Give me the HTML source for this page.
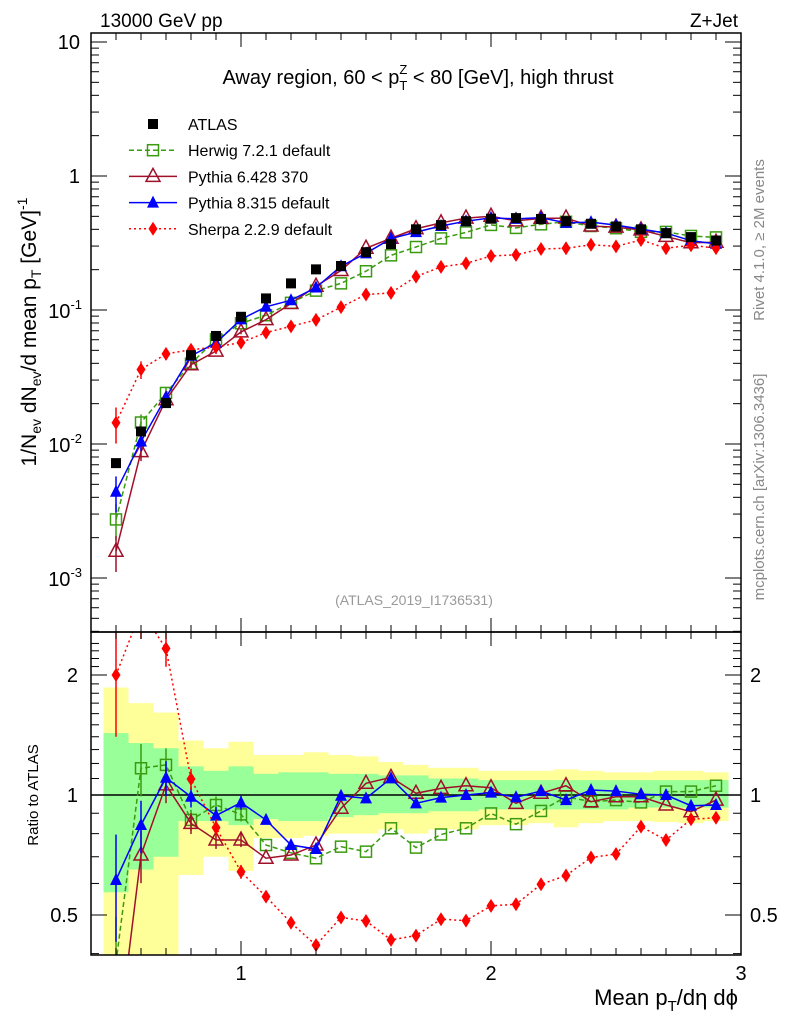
<!DOCTYPE html>
<html><head><meta charset="utf-8"><style>
html,body{margin:0;padding:0;background:#fff;font-family:"Liberation Sans",sans-serif;width:786px;height:1024px;overflow:hidden}
svg{display:block}
text{font-family:"Liberation Sans",sans-serif}
</style></head><body>
<svg id="c" width="786" height="1024" xmlns="http://www.w3.org/2000/svg">
<text x="100" y="27" font-size="19">13000 GeV pp</text>
<text x="738" y="27" font-size="19" text-anchor="end">Z+Jet</text>
<text x="418" y="84" font-size="20" text-anchor="middle">Away region, 60 &lt; p<tspan font-size="13" dy="6">T</tspan><tspan font-size="13" dx="-8" dy="-16">Z</tspan><tspan dy="10"> &lt; 80 [GeV], high thrust</tspan></text>
<text x="414" y="605" font-size="14" fill="#999" text-anchor="middle">(ATLAS_2019_I1736531)</text>
<text transform="translate(764,240) rotate(-90)" font-size="15" fill="#888" text-anchor="middle">Rivet 4.1.0, ≥ 2M events</text>
<text transform="translate(764,487) rotate(-90)" font-size="15" fill="#888" text-anchor="middle">mcplots.cern.ch [arXiv:1306.3436]</text>
<text transform="translate(36,332) rotate(-90)" font-size="21" text-anchor="middle">1/N<tspan font-size="14" dy="5">ev</tspan><tspan dy="-5"> dN</tspan><tspan font-size="14" dy="5">ev</tspan><tspan dy="-5">/d mean p</tspan><tspan font-size="14" dy="5">T</tspan><tspan dy="-5"> [GeV]</tspan><tspan font-size="14" dy="-9">-1</tspan></text>
<text transform="translate(38,795) rotate(-90)" font-size="15" text-anchor="middle">Ratio to ATLAS</text>
<text x="738" y="1005" font-size="22" text-anchor="end">Mean p<tspan font-size="15" dy="6">T</tspan><tspan dy="-6">/dη dϕ</tspan></text>
<g id="g"></g>
</svg>
<script>
const xs=[0.5,0.6,0.7,0.8,0.9,1.0,1.1,1.2,1.3,1.4,1.5,1.6,1.7,1.8,1.9,2.0,2.1,2.2,2.3,2.4,2.5,2.6,2.7,2.8,2.9];
const atlas=[0.0072,0.0124,0.0202,0.046,0.064,0.089,0.122,0.158,0.201,0.213,0.27,0.31,0.40,0.43,0.46,0.48,0.485,0.478,0.46,0.44,0.42,0.40,0.375,0.35,0.33];
const herwigR=[0.38,1.167,1.19,0.866,0.944,0.894,0.749,0.716,0.694,0.742,0.721,0.825,0.738,0.796,0.825,0.899,0.845,0.912,0.99,0.962,0.971,0.958,1.02,1.02,1.055];
const py6R=[0.22,0.707,1.06,0.849,0.771,0.771,0.694,0.707,0.749,0.926,1.07,1.107,1.01,1.039,1.055,1.043,0.953,1.01,1.055,0.962,0.99,0.99,0.944,0.908,0.971];
const py8R=[0.612,0.841,1.105,0.99,0.888,0.957,0.866,0.749,0.732,0.996,0.981,1.101,0.953,0.985,1.0,1.014,0.987,1.023,0.971,1.029,1.023,1.004,1.0,0.94,0.944];
const sherpaR=[2.0,2.9,2.33,1.097,0.828,0.642,0.556,0.478,0.42,0.493,0.483,0.433,0.444,0.488,0.484,0.527,0.532,0.597,0.628,0.697,0.711,0.833,0.771,0.869,0.877];
const yelUp=[1.86,1.70,1.61,1.37,1.31,1.36,1.26,1.26,1.28,1.26,1.25,1.21,1.19,1.17,1.17,1.15,1.15,1.15,1.16,1.15,1.14,1.14,1.15,1.15,1.14];
const yelLo=[0.3,0.3,0.3,0.63,0.70,0.645,0.78,0.78,0.79,0.80,0.80,0.82,0.80,0.82,0.82,0.84,0.84,0.85,0.83,0.85,0.86,0.86,0.855,0.85,0.86];
const grnUp=[1.43,1.35,1.31,1.18,1.15,1.18,1.13,1.14,1.14,1.13,1.13,1.12,1.12,1.10,1.10,1.09,1.09,1.09,1.09,1.09,1.09,1.09,1.09,1.09,1.09];
const grnLo=[0.57,0.65,0.70,0.86,0.86,0.84,0.87,0.86,0.86,0.88,0.89,0.90,0.90,0.91,0.91,0.92,0.92,0.92,0.92,0.92,0.92,0.93,0.93,0.93,0.93];
const relErr=[0.3,0.15,0.1,0.06,0.05,0.04,0.03,0.03,0.03,0.02,0.02,0.02,0.02,0.02,0.02,0.02,0.02,0.02,0.02,0.02,0.02,0.02,0.02,0.02,0.02];

const L=91,R=741,T=33,M=632,B=955;
const X=v=>L+(v-0.4)*250;
const Y=v=>176-Math.log10(v)*134;
const YR=v=>795-Math.log2(v)*120;
const NS="http://www.w3.org/2000/svg";
const g=document.getElementById('g');
function el(t,a,p){const e=document.createElementNS(NS,t);for(const k in a)e.setAttribute(k,a[k]);(p||g).appendChild(e);return e;}
const clipT=el('clipPath',{id:'ct'});el('rect',{x:L,y:T,width:R-L,height:M-T},clipT);
const clipB=el('clipPath',{id:'cb'});el('rect',{x:L,y:M,width:R-L,height:B-M},clipB);
const gt=el('g',{'clip-path':'url(#ct)'});
const gb=el('g',{'clip-path':'url(#cb)'});

xs.forEach((x,i)=>{
 const x0=X(x-0.05),w=25;
 const y1=el('rect',{x:x0,y:YR(yelUp[i]),width:w,height:YR(yelLo[i])-YR(yelUp[i]),fill:'#ffff99'},gb);
 
 const g1=el('rect',{x:x0,y:YR(grnUp[i]),width:w,height:YR(grnLo[i])-YR(grnUp[i]),fill:'#99ff99'},gb);
 
});
el('line',{x1:L,x2:R,y1:YR(1),y2:YR(1),stroke:'#000','stroke-width':1.5},gb);

function marker(par,type,cx,cy,col){
 let e;
 if(type==='sq') e=el('rect',{x:cx-5,y:cy-5,width:10,height:10,fill:'#000'},par);
 else if(type==='osq') e=el('rect',{x:cx-5.5,y:cy-5.5,width:11,height:11,fill:'#fff','fill-opacity':0,stroke:col,'stroke-width':1.5},par);
 else if(type==='otri') e=el('polygon',{points:`${cx},${cy-8} ${cx-7},${cy+5} ${cx+7},${cy+5}`,fill:'none',stroke:col,'stroke-width':1.5},par);
 else if(type==='tri') e=el('polygon',{points:`${cx},${cy-7} ${cx-6},${cy+5} ${cx+6},${cy+5}`,fill:col},par);
 else e=el('polygon',{points:`${cx},${cy-7} ${cx-4.5},${cy} ${cx},${cy+7} ${cx+4.5},${cy}`,fill:col},par);
 return e;
}
const series=[
 {name:'herwig',r:herwigR,col:'#3a9a10',dash:'5,3',m:'osq'},
 {name:'pythia6',r:py6R,col:'#a0102a',dash:'',m:'otri'},
 {name:'pythia8',r:py8R,col:'#0000ff',dash:'',m:'tri'},
 {name:'sherpa',r:sherpaR,col:'#ff0000',dash:'2,3',m:'dia'}
];
series.forEach(s=>{
 const vals=s.r.map((r,i)=>r*atlas[i]);
 const pt=el('polyline',{points:xs.map((x,i)=>X(x)+','+Y(vals[i])).join(' '),fill:'none',stroke:s.col,'stroke-width':1.5,'stroke-dasharray':s.dash},gt);
 
 const pb=el('polyline',{points:xs.map((x,i)=>X(x)+','+YR(s.r[i])).join(' '),fill:'none',stroke:s.col,'stroke-width':1.5,'stroke-dasharray':s.dash},gb);
 
 xs.forEach((x,i)=>{
  const e=relErr[i];
  if(e>0.03){
   el('line',{x1:X(x),x2:X(x),y1:Y(vals[i]*(1+e)),y2:Y(vals[i]*(1-e)),stroke:s.col,'stroke-width':1.5},gt);
   el('line',{x1:X(x),x2:X(x),y1:YR(s.r[i]*(1+e)),y2:YR(s.r[i]*(1-e)),stroke:s.col,'stroke-width':1.5},gb);
  }
  const m1=marker(gt,s.m,X(x),Y(vals[i]),s.col);
  
  const m2=marker(gb,s.m,X(x),YR(s.r[i]),s.col);
  
 });
});
xs.forEach((x,i)=>{
 const m=marker(gt,'sq',X(x),Y(atlas[i]),'#000');
 
});

el('rect',{x:L,y:T,width:R-L,height:M-T,fill:'none',stroke:'#000','stroke-width':1.5});
el('rect',{x:L,y:M,width:R-L,height:B-M,fill:'none',stroke:'#000','stroke-width':1.5});
for(let k=4;k<=30;k++){
 const v=k/10,x=X(v),maj=k%10===0,len=maj?14:7;
 [[T,1],[M,-1],[M,1],[B,-1]].forEach(([y,d])=>el('line',{x1:x,x2:x,y1:y,y2:y+d*len,stroke:'#000'}));
 if(maj){const t=el('text',{x:x,y:980,'font-size':20,'text-anchor':'middle'});t.textContent=k/10;
  }
}
for(let e=-4;e<=1;e++){
 for(let m=1;m<=9;m++){
  const v=m*Math.pow(10,e),y=Y(v);
  if(y<T||y>M)continue;
  const len=m===1?16:8;
  el('line',{x1:L,x2:L+len,y1:y,y2:y,stroke:'#000'});
  el('line',{x1:R,x2:R-len,y1:y,y2:y,stroke:'#000'});
 }
}
const yl=[['10',1],['1',0]];
yl.forEach(([s,e])=>{const t=el('text',{x:80,y:Y(Math.pow(10,e))+7,'font-size':20,'text-anchor':'end'});t.textContent=s;
 });
[-1,-2,-3].forEach(e=>{const t=el('text',{x:82,y:Y(Math.pow(10,e))+8,'font-size':20,'text-anchor':'end'});
 t.innerHTML='10<tspan font-size="13" dy="-9">'+e+'</tspan>';
 });
for(let v=0.4;v<=2.5;v+=0.1){
 const vv=Math.round(v*10)/10,y=YR(vv);if(y<M||y>B)continue;
 const maj=(vv===0.5||vv===1||vv===2),len=maj?16:8;
 el('line',{x1:L,x2:L+len,y1:y,y2:y,stroke:'#000'});
 el('line',{x1:R,x2:R-len,y1:y,y2:y,stroke:'#000'});
}
[['2',2],['1',1],['0.5',0.5]].forEach(([s,v])=>{
 [[78,'end'],[750,'start']].forEach(([x,a])=>{const t=el('text',{x:x,y:YR(v)+7,'font-size':20,'text-anchor':a});t.textContent=s;
 });
});
const leg=[['ATLAS','sq','#000',''],['Herwig 7.2.1 default','osq','#3a9a10','5,3'],['Pythia 6.428 370','otri','#a0102a',''],['Pythia 8.315 default','tri','#0000ff',''],['Sherpa 2.2.9 default','dia','#ff0000','2,3']];
leg.forEach((l,i)=>{
 const y=124+i*26.2;
 const lg=el('g',{});
 if(i>0)el('line',{x1:129,x2:177,y1:y,y2:y,stroke:l[2],'stroke-width':1.5,'stroke-dasharray':l[3]},lg);
 marker(lg,l[1],153,y,l[2]);
 const t=el('text',{x:188,y:y+6,'font-size':16},lg);t.textContent=l[0];
});
</script>
</body></html>
